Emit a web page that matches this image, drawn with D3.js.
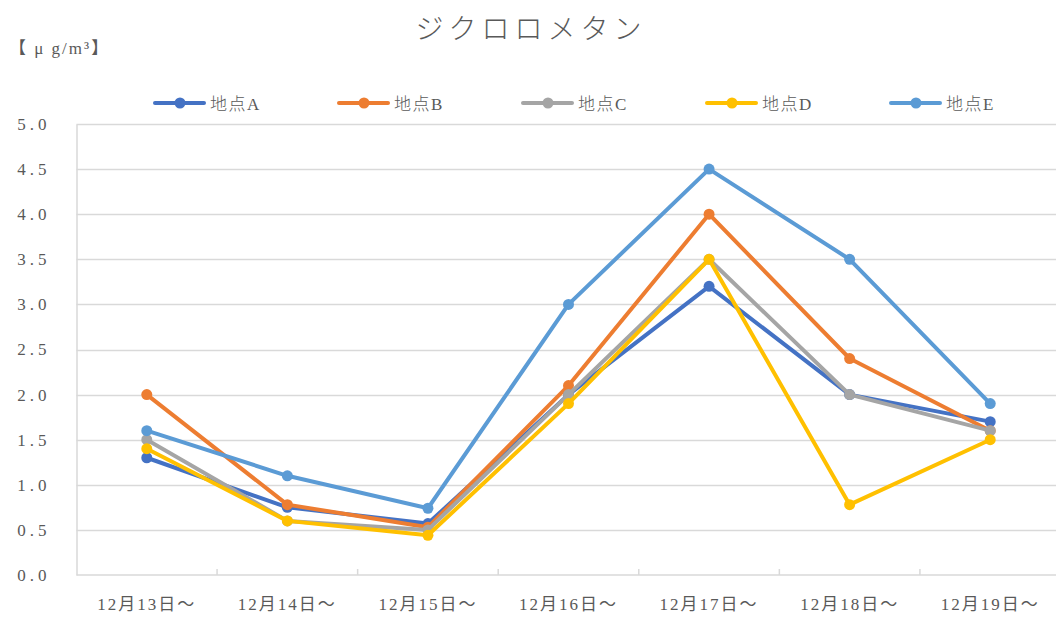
<!DOCTYPE html>
<html>
<head>
<meta charset="utf-8">
<script src="https://cdn.jsdelivr.net/npm/d3@7"></script>
<style>
  html, body { margin: 0; padding: 0; background: #fff; }
  svg { display: block; }
  text { font-family: "Liberation Serif", "Noto Sans CJK JP", serif; fill: #595959; }
</style>
</head>
<body>
<svg id="chart" width="1056" height="617"></svg>
<script>
// Sampling periods (category axis)
const categories = ["12月13日～", "12月14日～", "12月15日～", "12月16日～", "12月17日～", "12月18日～", "12月19日～"];

// Dichloromethane concentrations per site (μg/m³)
const siteA = [1.3, 0.75, 0.57, 2.0, 3.2, 2.0, 1.7];
const siteB = [2.0, 0.78, 0.53, 2.1, 4.0, 2.4, 1.6];
const siteC = [1.5, 0.6, 0.5, 2.0, 3.5, 2.0, 1.6];
const siteD = [1.4, 0.6, 0.44, 1.9, 3.5, 0.78, 1.5];
const siteE = [1.6, 1.1, 0.74, 3.0, 4.5, 3.5, 1.9];

const seriesNames = ["地点A", "地点B", "地点C", "地点D", "地点E"];
const seriesValues = [siteA, siteB, siteC, siteD, siteE];
const seriesColors = ["#4472C4", "#ED7D31", "#A5A5A5", "#FFC000", "#5B9BD5"];

const yTicks = [0, 0.5, 1.0, 1.5, 2.0, 2.5, 3.0, 3.5, 4.0, 4.5, 5.0];

const svg = d3.select("#chart");
const plot = { left: 76.5, right: 1060.5, top: 124, bottom: 575 };

const x = d3.scaleBand().domain(categories).range([plot.left, plot.right]).padding(0);
const y = d3.scaleLinear().domain([0, 5]).range([plot.bottom, plot.top]);

// Title
svg.append("text")
  .attr("x", 531).attr("y", 39)
  .attr("text-anchor", "middle")
  .attr("font-family", "Noto Sans CJK JP")
  .attr("font-weight", 300)
  .attr("font-size", 28)
  .attr("letter-spacing", 5)
  .text("ジクロロメタン");

// Unit label
svg.append("text")
  .attr("x", 9).attr("y", 54)
  .attr("font-size", 17)
  .attr("letter-spacing", 2)
  .text("【 μ g/m³】");

// Horizontal gridlines
svg.append("g")
  .selectAll("line")
  .data(yTicks.filter(d => d > 0))
  .join("line")
  .attr("x1", plot.left).attr("x2", plot.right)
  .attr("y1", d => Math.round(y(d)) + 0.5).attr("y2", d => Math.round(y(d)) + 0.5)
  .attr("stroke", "#d9d9d9").attr("stroke-width", 1.5);

// Y axis labels + vertical axis line
const yAxis = d3.axisLeft(y).tickValues(yTicks).tickFormat(d3.format(".1f")).tickSize(0).tickPadding(26);
const gy = svg.append("g").attr("transform", `translate(${plot.left},0)`).call(yAxis);
gy.select(".domain").attr("stroke", "#d9d9d9").attr("stroke-width", 1.5);
gy.selectAll("text").attr("font-size", 17).attr("letter-spacing", 4)
  .attr("font-family", "Liberation Serif").attr("fill", "#595959");

// X axis: baseline, inner tick marks between categories, labels
const boundaries = categories.slice(1).map(c => x(c));
const gx = svg.append("g");
gx.append("line")
  .attr("x1", plot.left).attr("x2", plot.right)
  .attr("y1", plot.bottom).attr("y2", plot.bottom)
  .attr("stroke", "#d9d9d9").attr("stroke-width", 1.5);
gx.selectAll("line.tick")
  .data(boundaries)
  .join("line")
  .attr("class", "tick")
  .attr("x1", d => d).attr("x2", d => d)
  .attr("y1", plot.bottom).attr("y2", plot.bottom - 6)
  .attr("stroke", "#d9d9d9").attr("stroke-width", 1.5);
gx.selectAll("text")
  .data(categories)
  .join("text")
  .attr("x", d => x(d) + x.bandwidth() / 2)
  .attr("y", 610)
  .attr("text-anchor", "middle")
  .attr("font-size", 17)
  .attr("letter-spacing", 2)
  .attr("font-family", "Liberation Serif, Noto Sans CJK JP")
  .text(d => d);

// Series lines and markers
const line = d3.line()
  .x((d, i) => x(categories[i]) + x.bandwidth() / 2)
  .y(d => y(d));

const series = svg.append("g").selectAll("g")
  .data(seriesValues.map((v, i) => ({ name: seriesNames[i], values: v, color: seriesColors[i] })))
  .join("g");

series.append("path")
  .attr("d", d => line(d.values))
  .attr("fill", "none")
  .attr("stroke", d => d.color)
  .attr("stroke-width", 4)
  .attr("stroke-linejoin", "round")
  .attr("stroke-linecap", "round");

series.selectAll("circle")
  .data(d => d.values.map((v, i) => ({ v, i, color: d.color })))
  .join("circle")
  .attr("cx", d => x(categories[d.i]) + x.bandwidth() / 2)
  .attr("cy", d => y(d.v))
  .attr("r", 5.5)
  .attr("fill", d => d.color);

// Legend
const legend = svg.append("g").selectAll("g")
  .data(seriesNames.map((n, i) => ({ name: n, color: seriesColors[i], i })))
  .join("g")
  .attr("transform", d => `translate(${155 + d.i * 184},103)`);
legend.append("line")
  .attr("x1", 0).attr("x2", 49).attr("y1", 0).attr("y2", 0)
  .attr("stroke", d => d.color).attr("stroke-width", 4).attr("stroke-linecap", "round");
legend.append("circle")
  .attr("cx", 25).attr("cy", 0).attr("r", 5.5)
  .attr("fill", d => d.color);
legend.append("text")
  .attr("x", 55).attr("y", 7)
  .attr("font-size", 17)
  .attr("letter-spacing", 1.5)
  .attr("font-family", "Noto Sans CJK JP")
  .attr("font-weight", 300)
  .text(d => d.name);
</script>
</body>
</html>
